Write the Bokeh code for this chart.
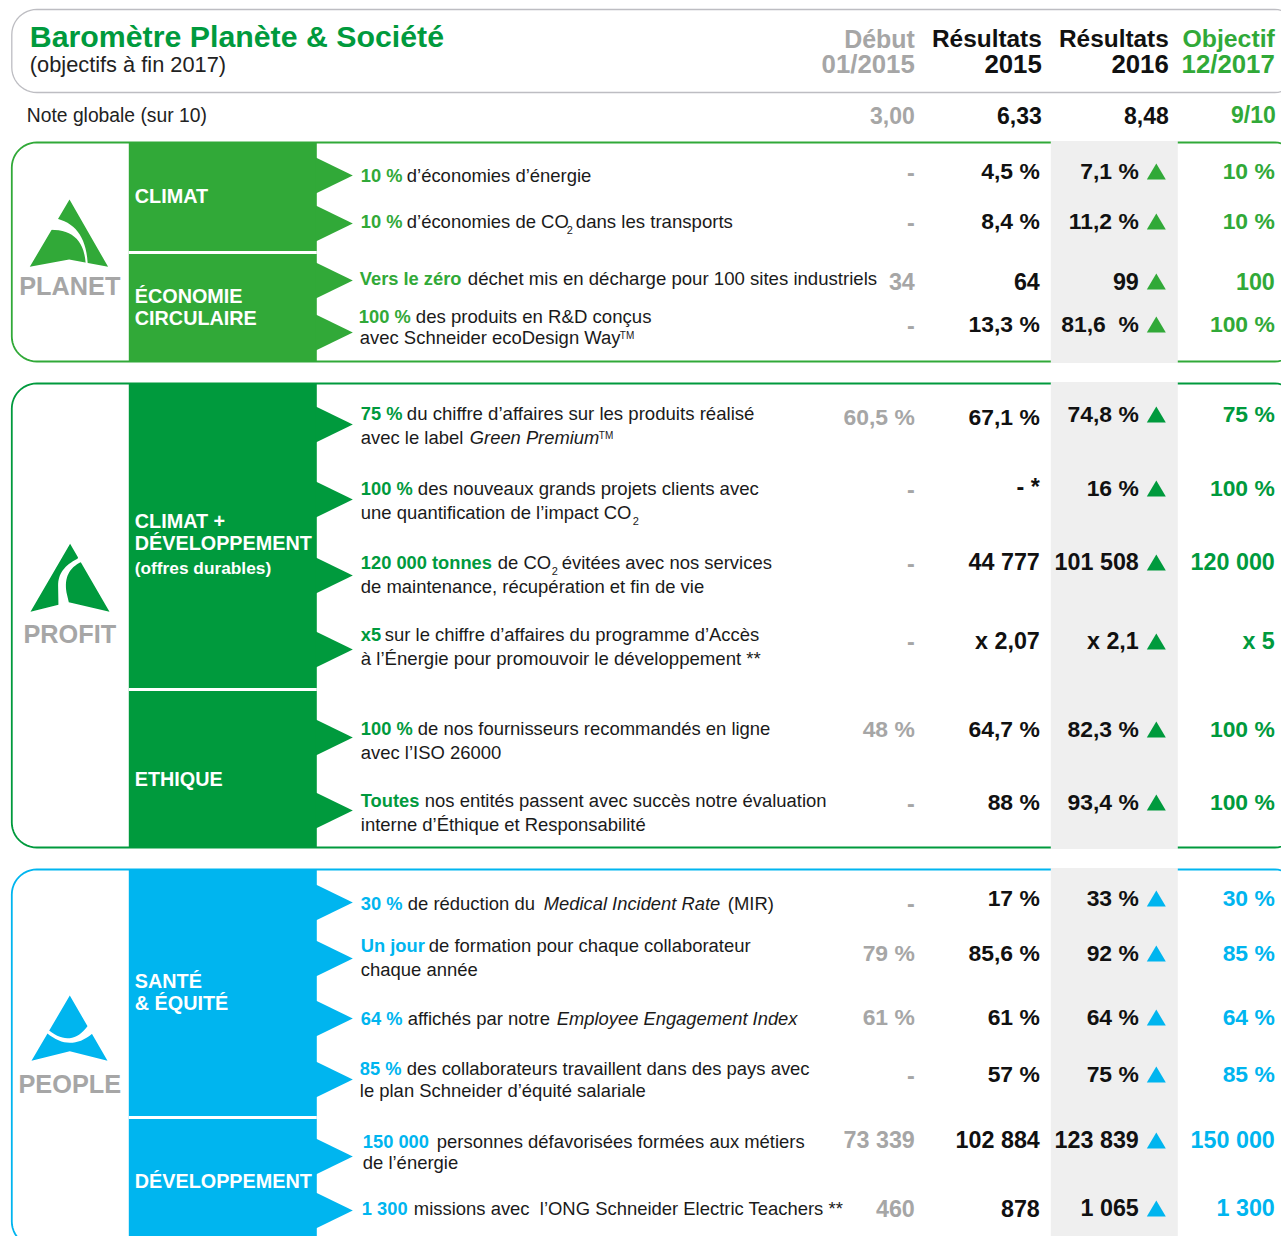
import math
from collections import defaultdict
from bokeh.plotting import figure
from bokeh.models import Range1d
from bokeh.core.properties import value
from bokeh.embed import file_html
from bokeh.resources import INLINE

FONT = "Liberation Sans"
PLANET, PROFIT, PEOPLE = "#31A938", "#009A3D", "#00B5EF"
GREY, BLACK = "#A6A6A6", "#111111"
NB = "\u00a0"

title = "Baromètre Planète & Société"
subtitle = "(objectifs à fin 2017)"
note_label = "Note globale (sur 10)"
col_headers = [("Début", "01/2015"), ("Résultats", "2015"), ("Résultats", "2016"), ("Objectif", "12/2017")]
note_values = ["3,00", "6,33", "8,48", "9/10"]

debut = ["-", "-", "34", "-",
         "60,5 %", "-", "-", "-", "48 %", "-",
         "-", "79 %", "61 %", "-", "73 339", "460"]
resultats_2015 = ["4,5 %", "8,4 %", "64", "13,3 %",
                  "67,1 %", "- *", "44 777", "x 2,07", "64,7 %", "88 %",
                  "17 %", "85,6 %", "61 %", "57 %", "102 884", "878"]
resultats_2016 = ["7,1 %", "11,2 %", "99", "81,6" + NB + " %",
                  "74,8 %", "16 %", "101 508", "x 2,1", "82,3 %", "93,4 %",
                  "33 %", "92 %", "64 %", "75 %", "123 839", "1 065"]
objectif_2017 = ["10 %", "10 %", "100", "100 %",
                 "75 %", "100 %", "120 000", "x 5", "100 %", "100 %",
                 "30 %", "85 %", "64 %", "85 %", "150 000", "1 300"]
row_color = [PLANET] * 4 + [PROFIT] * 6 + [PEOPLE] * 6
# vertical position of each row, per column
y_debut = [172, 222, 281, 325, 417, 489, 563, 641, 729, 803, 903, 953, 1017, 1075, 1140, 1208]
y_2015 = [171, 221, 281, 324, 417, 487, 562, 641, 729, 802, 898, 953, 1017, 1074, 1140, 1208]
y_2016 = [171, 221, 281, 324, 414, 488, 562, 641, 729, 802, 898, 953, 1017, 1074, 1140, 1208]
y_obj = [171, 221, 281, 324, 414, 488, 562, 641, 729, 802, 898, 953, 1017, 1074, 1140, 1208]
y_tri = [171, 221, 281, 324, 414, 488, 562, 641, 729, 802, 898, 953, 1017, 1074, 1140, 1208]

# label runs: x, baseline, text, kind (b=bold coloured, r=regular, w=regular wide, i=italic, s=subscript, t=superscript)
labels = [
    (PLANET, [(361, 182, "10 %", "b"), (407, 182, "d’économies d’énergie", "r")]),
    (PLANET, [(361, 228, "10 %", "b"), (407, 228, "d’économies de CO", "r"), (567, 233, "2", "s"), (576, 228, "dans les transports", "w")]),
    (PLANET, [(360, 285, "Vers le zéro", "b"), (468, 285, "déchet mis en décharge pour 100 sites industriels", "w")]),
    (PLANET, [(359, 323, "100 %", "b"), (416, 323, "des produits en R&D conçus", "w"), (360, 344, "avec Schneider ecoDesign Way", "r"), (620, 339, "TM", "t")]),
    (PROFIT, [(361, 420, "75 %", "b"), (407, 420, "du chiffre d’affaires sur les produits réalisé", "w"), (361, 444, "avec le label", "r"), (470, 444, "Green Premium", "i"), (599, 439, "TM", "t")]),
    (PROFIT, [(361, 495, "100 %", "b"), (418, 495, "des nouveaux grands projets clients avec", "w"), (361, 519, "une quantification de l’impact CO", "r"), (633, 524, "2", "s")]),
    (PROFIT, [(361, 569, "120 000 tonnes", "b"), (498, 569, "de CO", "r"), (552, 574, "2", "s"), (562, 569, "évitées avec nos services", "r"), (361, 593, "de maintenance, récupération et fin de vie", "r")]),
    (PROFIT, [(361, 641, "x5", "b"), (385, 641, "sur le chiffre d’affaires du programme d’Accès", "r"), (361, 665, "à l’Énergie pour promouvoir le développement **", "w")]),
    (PROFIT, [(361, 735, "100 %", "b"), (418, 735, "de nos fournisseurs recommandés en ligne", "r"), (361, 759, "avec l’ISO 26000", "r")]),
    (PROFIT, [(361, 807, "Toutes", "b"), (425, 807, "nos entités passent avec succès notre évaluation", "r"), (361, 831, "interne d’Éthique et Responsabilité", "r")]),
    (PEOPLE, [(361, 910, "30 %", "b"), (408, 910, "de réduction du", "r"), (544, 910, "Medical Incident Rate", "i"), (728, 910, "(MIR)", "r")]),
    (PEOPLE, [(361, 952, "Un jour", "b"), (429, 952, "de formation pour chaque collaborateur", "r"), (361, 976, "chaque année", "r")]),
    (PEOPLE, [(361, 1025, "64 %", "b"), (408, 1025, "affichés par notre", "r"), (557, 1025, "Employee Engagement Index", "i")]),
    (PEOPLE, [(360, 1075, "85 %", "b"), (407, 1075, "des collaborateurs travaillent dans des pays avec", "r"), (360, 1097, "le plan Schneider d’équité salariale", "r")]),
    (PEOPLE, [(363, 1148, "150 000", "b"), (437, 1148, "personnes défavorisées formées aux métiers", "r"), (363, 1169, "de l’énergie", "r")]),
    (PEOPLE, [(362, 1215, "1 300", "b"), (414, 1215, "missions avec" + NB + " l’ONG Schneider Electric Teachers **", "r")]),
]

# sections: colour, box top/bottom, dividers, arrow tips, category labels, logo name
sections = [
    dict(c=PLANET, top=142, bottom=361, divide=252, tips=[175, 223, 280, 332], name="PLANET", name_y=286,
         cats=[(196, "CLIMAT", 19.8), (296, "ÉCONOMIE", 19.8), (318, "CIRCULAIRE", 19.8)]),
    dict(c=PROFIT, top=383, bottom=847, divide=689, tips=[424, 499, 575, 649, 737, 810], name="PROFIT", name_y=634,
         cats=[(521, "CLIMAT +", 19.8), (543, "DÉVELOPPEMENT", 19.8), (567, "(offres durables)", 17.3), (779, "ETHIQUE", 19.8)]),
    dict(c=PEOPLE, top=869, bottom=1246, divide=1117, tips=[902, 958, 1018, 1079, 1156, 1210], name="PEOPLE", name_y=1084,
         cats=[(981, "SANTÉ", 19.8), (1003, "& ÉQUITÉ", 19.8), (1181, "DÉVELOPPEMENT", 19.8)]),
]

p = figure(width=1281, height=1236, x_range=Range1d(0.7, 1281.7), y_range=Range1d(1236, 0),
           toolbar_location=None, output_backend="svg", min_border=0,
           background_fill_color="white", border_fill_color="white", outline_line_color=None)
p.axis.visible = False
p.grid.visible = False

texts = defaultdict(lambda: ([], [], []))


def put(x, y, s, color, size, style="normal", align="left"):
    t = texts[(color, size, style, align)]
    t[0].append(x)
    t[1].append(y - 0.36 * size)
    t[2].append(s)


def rounded(x0, y0, x1, y1, r):
    xs, ys = [], []
    for cx, cy, a0 in [(x1 - r, y0 + r, -90), (x1 - r, y1 - r, 0), (x0 + r, y1 - r, 90), (x0 + r, y0 + r, 180)]:
        for k in range(13):
            a = math.radians(a0 + k * 7.5)
            xs.append(cx + r * math.cos(a))
            ys.append(cy + r * math.sin(a))
    return xs + xs[:1], ys + ys[:1]


def curve(a, c, b, n=16):
    pts = []
    for k in range(n + 1):
        t = k / n
        pts.append(((1 - t) ** 2 * a[0] + 2 * t * (1 - t) * c[0] + t ** 2 * b[0],
                    (1 - t) ** 2 * a[1] + 2 * t * (1 - t) * c[1] + t ** 2 * b[1]))
    return pts


def logo(tri, cut, color):
    p.patch([q[0] for q in tri], [q[1] for q in tri], fill_color=color, line_color=None)
    p.patch([q[0] for q in cut], [q[1] for q in cut], fill_color="white", line_color=None)


# header
hx, hy = rounded(12, 9, 1300, 92, 25)
p.line(hx, hy, line_color="#BDBDC2", line_width=1.3)
put(30, 47, title, PROFIT, 30.3, "bold")
put(30, 72, subtitle, "#222222", 21.8)
for (a, b), x, c, s1 in zip(col_headers, [915, 1042, 1169, 1275], [GREY, BLACK, BLACK, PLANET], [24.9, 24.4, 24.4, 24.8]):
    put(x, 47, a, c, s1, "bold", "right")
    put(x, 73, b, c, 25.8, "bold", "right")
put(27, 122, note_label, "#222222", 19.3)
for s, x, c in zip(note_values, [915, 1042, 1169, 1276], [GREY, BLACK, BLACK, PLANET]):
    put(x, 123, s, c, 23, "bold", "right")

# sections
for sec in sections:
    c, top, bot = sec["c"], sec["top"], sec["bottom"]
    p.quad(left=[1051], right=[1178], top=[top], bottom=[min(bot, 1240)], fill_color="#EFEFEF", line_color=None)
    bx, by = rounded(12, top, 1300, bot, 25)
    p.line(bx, by, line_color=c, line_width=1.8)
    p.quad(left=[1051], right=[1178], top=[top - 1.5], bottom=[top + 1.5], fill_color="#EFEFEF", line_color=None)
    p.quad(left=[1051], right=[1178], top=[bot - 1.5], bottom=[bot + 1.5], fill_color="#EFEFEF", line_color=None)
    p.quad(left=[129], right=[317], top=[top], bottom=[bot], fill_color=c, line_color=None)
    p.patches([[316, 353, 316] for _ in sec["tips"]],
              [[t - 18, t, t + 18] for t in sec["tips"]], fill_color=c, line_color=None)
    p.quad(left=[129], right=[317], top=[sec["divide"] - 1.5], bottom=[sec["divide"] + 1.5], fill_color="white", line_color=None)
    for y, s, size in sec["cats"]:
        put(135, y + 7, s, "white", size, "bold")
    put(70, sec["name_y"] + 9, sec["name"], GREY, 25.3, "bold", "center")

# logos
logo([(69.7, 199), (108.3, 266.3), (69.3, 259), (30, 266.3)],
     curve((57.7, 218.3), (87, 226), (88, 266)) + curve((86, 266), (85, 229), (51, 229.3)) + [(48, 229), (54, 217)], PLANET)
logo([(70.3, 543.3), (109.7, 611.3), (69, 601.7), (58.7, 604.3), (30.7, 611.3)],
     curve((77.7, 558.3), (58, 568), (58.3, 585)) + [(58.7, 608), (69, 604), (69, 601.7)]
     + curve((66.7, 592), (63, 570), (81.5, 561.5)) + [(84, 558), (79, 555)], PROFIT)
logo([(70, 995), (107.7, 1060.3), (70, 1050.7), (31.7, 1060.3)],
     curve((49.3, 1030), (71.5, 1047.5), (87.7, 1025.7)) + [(90, 1024), (96, 1032)]
     + curve((92.3, 1033.3), (70.2, 1051.6), (47.3, 1032.7)) + [(44, 1032), (47, 1028)], PEOPLE)

# label runs
for color, runs in labels:
    for x, y, s, kind in runs:
        if kind == "b":
            put(x, y, s, color, 18.3, "bold")
        elif kind == "r":
            put(x, y, s, "#1A1A1A", 18.45)
        elif kind == "w":
            put(x, y, s, "#1A1A1A", 18.6)
        elif kind == "i":
            put(x, y, s, "#1A1A1A", 18.35, "italic")
        elif kind == "s":
            put(x, y, s, "#1A1A1A", 11)
        else:
            put(x, y, s, "#1A1A1A", 10)


def vsize(s):
    return 22.9 if "%" in s else 23.3


# values
for i in range(len(row_color)):
    put(915, y_debut[i] + 8, debut[i], GREY, vsize(debut[i]), "bold", "right")
    put(1040, y_2015[i] + 8, resultats_2015[i], BLACK, vsize(resultats_2015[i]), "bold", "right")
    put(1139, y_2016[i] + 8, resultats_2016[i], BLACK, vsize(resultats_2016[i]), "bold", "right")
    put(1275, y_obj[i] + 8, objectif_2017[i], row_color[i], vsize(objectif_2017[i]), "bold", "right")
p.patches([[1147, 1156.5, 1166] for _ in y_tri], [[y + 8, y - 8, y + 8] for y in y_tri],
          fill_color=row_color, line_color=None)

for (color, size, style, align), (xs, ys, ss) in texts.items():
    p.text(xs, ys, text=ss, text_color=color, text_font=value(FONT), text_font_size=value(f"{size}px"),
           text_font_style=style, text_align=align, text_baseline="alphabetic")

open("out.html", "w").write(file_html(p, INLINE))
